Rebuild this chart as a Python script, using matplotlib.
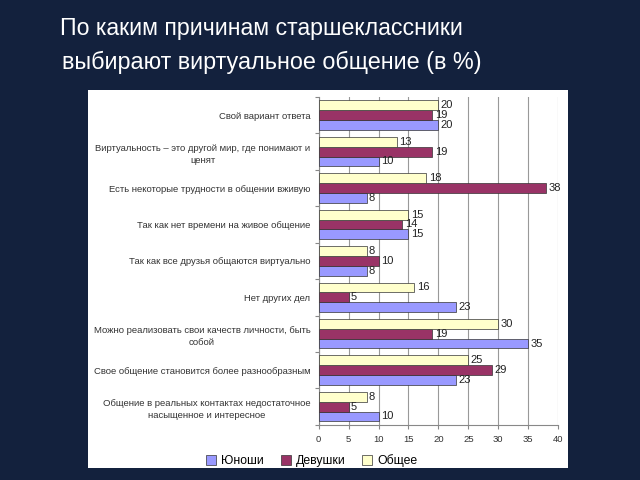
import matplotlib
matplotlib.use("Agg")
import matplotlib.pyplot as plt
import numpy as np
from matplotlib.patches import Rectangle

plt.rcParams["font.family"] = ["Liberation Sans", "DejaVu Sans"]

CATEGORIES = [
    "Свой вариант ответа",
    "Виртуальность – это другой мир, где понимают и\nценят",
    "Есть некоторые трудности в общении вживую",
    "Так как нет времени на живое общение",
    "Так как все друзья общаются виртуально",
    "Нет других дел",
    "Можно реализовать свои качеств личности, быть\nсобой",
    "Свое общение становится более разнообразным",
    "Общение в реальных контактах недостаточное\nнасыщенное и интересное",
]
OBSHEE = [20, 13, 18, 15, 8, 16, 30, 25, 8]
DEVUSHKI = [19, 19, 38, 14, 10, 5, 19, 29, 5]
YUNOSHI = [20, 10, 8, 15, 8, 23, 35, 23, 10]
SERIES = ["Юноши", "Девушки", "Общее"]
COLORS = ["#9999FF", "#993366", "#FFFFCC"]
XTICKS = [0, 5, 10, 15, 20, 25, 30, 35, 40]

fig = plt.figure(figsize=(6.4, 4.8), dpi=100)
fig.patch.set_facecolor("#13213d")

# white chart panel, kept behind the axes
fig.patches.append(Rectangle((0.1375, 0.025), 0.75, 0.7875, transform=fig.transFigure,
                             facecolor="white", edgecolor="none", zorder=-5))

fig.text(0.094, 0.94, "По каким причинам старшеклассники", color="white",
         fontsize=16.7, ha="left", va="center")
fig.text(0.097, 0.87, "выбирают виртуальное общение (в %)", color="white",
         fontsize=16.8, ha="left", va="center")

ax = fig.add_axes([0.498, 0.115, 0.374, 0.683])
ax.set_facecolor("white")

n = len(CATEGORIES)
y = np.arange(n)
h = 0.27
data = [YUNOSHI, DEVUSHKI, OBSHEE]
offsets = [h, 0, -h]
for vals, col, off, name in zip(data, COLORS, offsets, SERIES):
    bars = ax.barh(y + off, vals, height=h, color=col, edgecolor="#333333",
                   linewidth=0.5, label=name, zorder=3)
    for b, v in zip(bars, vals):
        ax.text(b.get_width() + 0.4, b.get_y() + b.get_height() / 2, str(v),
                va="center", ha="left", fontsize=8, color="#222222", zorder=4)

ax.set_ylim(n - 0.5, -0.5)
ax.set_xlim(0, 40)
ax.set_xticks(XTICKS)
ax.set_xticklabels([str(t) for t in XTICKS], fontsize=6.8, color="#333333")
ax.set_yticks(np.arange(-0.5, n, 1.0), minor=False)
ax.set_yticklabels([])
ax.set_yticks(y, minor=True)
ax.set_yticklabels(CATEGORIES, minor=True, fontsize=6.8, color="#333333",
                   multialignment="center", linespacing=1.5)
ax.tick_params(axis="y", which="minor", length=0, pad=6)
ax.tick_params(axis="y", which="major", length=3, color="#888888")
ax.tick_params(axis="x", length=3, color="#888888", pad=4)
ax.grid(axis="x", color="#999999", linewidth=0.8, zorder=0)
for s in ["top", "right"]:
    ax.spines[s].set_visible(False)
ax.spines["left"].set_color("#888888")
ax.spines["bottom"].set_color("#888888")

fig.legend(loc="center", bbox_to_anchor=(0.487, 0.04), ncol=3, frameon=False,
           fontsize=8.8, handlelength=0.8, handleheight=0.8, columnspacing=1.4,
           handletextpad=0.4)

fig.savefig("out.png", dpi=100, facecolor=fig.get_facecolor())
